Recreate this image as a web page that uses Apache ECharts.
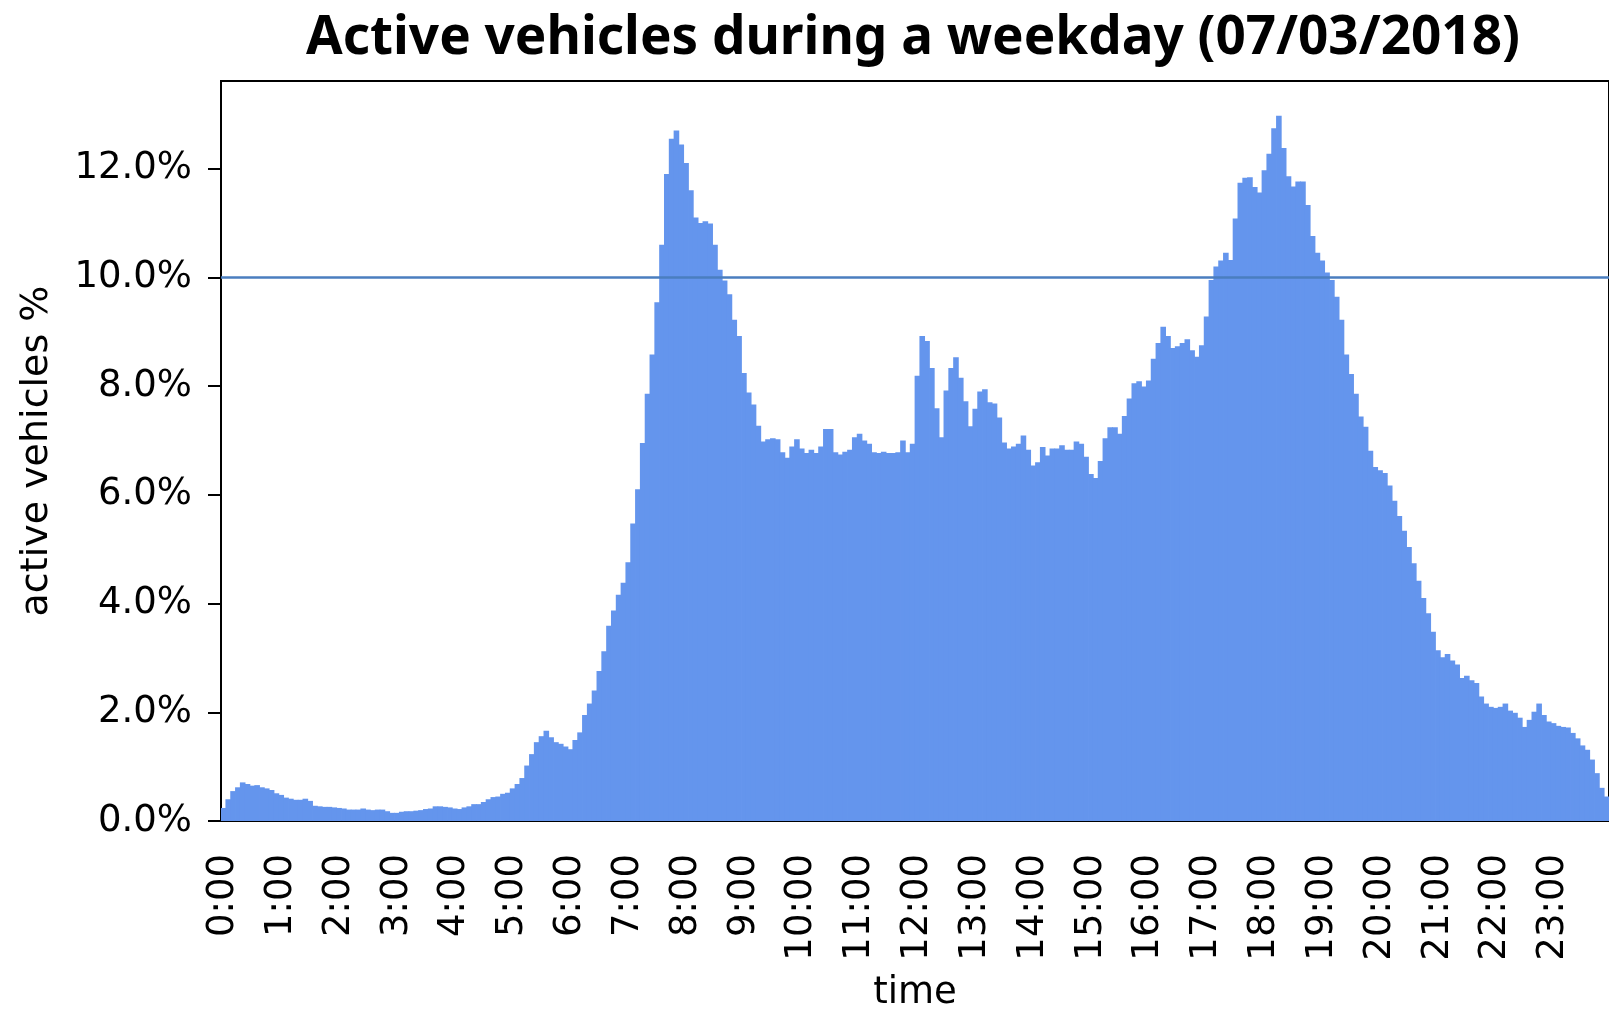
<!DOCTYPE html>
<html>
<head>
<meta charset="utf-8">
<title>Active vehicles during a weekday</title>
<script src="https://cdn.jsdelivr.net/npm/echarts@6/dist/echarts.min.js"></script>
<style>
  html, body { margin: 0; padding: 0; background: #fff; }
  #chart { width: 1609px; height: 1017px; }
</style>
</head>
<body>
<div id="chart"></div>
<script>
  // hour tick labels, one every 12 bars (5 minute slots)
  const hourLabels = ['0:00', '1:00', '2:00', '3:00', '4:00', '5:00', '6:00', '7:00',
    '8:00', '9:00', '10:00', '11:00', '12:00', '13:00', '14:00', '15:00',
    '16:00', '17:00', '18:00', '19:00', '20:00', '21:00', '22:00', '23:00']
  const yTicks = [0, 2, 4, 6, 8, 10, 12]
  const threshold = 10

  // active vehicles %, 5 minute slots, split in 4 hour blocks
  const night = [
    0.24, 0.40, 0.55, 0.62, 0.71, 0.68, 0.65, 0.66, 0.62, 0.60, 0.57, 0.51,
    0.48, 0.43, 0.41, 0.39, 0.39, 0.41, 0.37, 0.28, 0.27, 0.26, 0.26, 0.25,
    0.24, 0.23, 0.21, 0.21, 0.21, 0.23, 0.21, 0.20, 0.21, 0.21, 0.18, 0.15,
    0.15, 0.17, 0.18, 0.18, 0.19, 0.20, 0.22, 0.23, 0.27, 0.27, 0.26, 0.25
  ]
  const earlyMorning = [
    0.23, 0.22, 0.25, 0.27, 0.31, 0.31, 0.35, 0.40, 0.44, 0.45, 0.50, 0.52,
    0.60, 0.68, 0.79, 1.02, 1.23, 1.45, 1.56, 1.66, 1.54, 1.45, 1.42, 1.37,
    1.32, 1.49, 1.63, 1.95, 2.16, 2.40, 2.76, 3.12, 3.59, 3.87, 4.16, 4.38,
    4.76, 5.47, 6.10, 6.95, 7.86, 8.58, 9.54, 10.60, 11.90, 12.55, 12.70, 12.44
  ]
  const morning = [
    12.10, 11.60, 11.10, 11.00, 11.03, 10.99, 10.60, 10.14, 9.94, 9.69, 9.22, 8.92,
    8.24, 7.88, 7.66, 7.27, 6.98, 7.02, 7.04, 7.02, 6.78, 6.68, 6.89, 7.02,
    6.85, 6.77, 6.83, 6.77, 6.89, 7.21, 7.21, 6.78, 6.74, 6.79, 6.83, 7.06,
    7.12, 7.00, 6.94, 6.78, 6.77, 6.79, 6.77, 6.77, 6.78, 7.00, 6.78, 6.94
  ]
  const afternoon = [
    8.19, 8.92, 8.83, 8.33, 7.59, 7.06, 7.92, 8.33, 8.53, 8.15, 7.72, 7.26,
    7.58, 7.90, 7.94, 7.70, 7.68, 7.42, 6.96, 6.85, 6.89, 6.94, 7.09, 6.83,
    6.54, 6.60, 6.88, 6.72, 6.85, 6.85, 6.91, 6.83, 6.83, 6.98, 6.94, 6.70,
    6.38, 6.31, 6.62, 7.04, 7.24, 7.24, 7.12, 7.45, 7.77, 8.05, 8.09, 7.99
  ]
  const evening = [
    8.10, 8.50, 8.79, 9.09, 8.92, 8.70, 8.73, 8.79, 8.86, 8.66, 8.54, 8.75,
    9.28, 9.95, 10.20, 10.31, 10.45, 10.32, 11.08, 11.74, 11.83, 11.84, 11.66, 11.56,
    11.97, 12.27, 12.74, 12.97, 12.38, 11.86, 11.67, 11.76, 11.76, 11.33, 10.76, 10.45,
    10.31, 10.09, 9.95, 9.64, 9.22, 8.58, 8.22, 7.86, 7.44, 7.25, 6.81, 6.51
  ]
  const lateEvening = [
    6.45, 6.40, 6.17, 5.89, 5.61, 5.34, 5.04, 4.74, 4.42, 4.10, 3.82, 3.48,
    3.14, 3.01, 3.07, 2.95, 2.88, 2.63, 2.67, 2.59, 2.54, 2.29, 2.16, 2.10,
    2.08, 2.10, 2.16, 2.03, 1.99, 1.90, 1.73, 1.86, 2.01, 2.16, 1.95, 1.83,
    1.80, 1.75, 1.73, 1.72, 1.62, 1.52, 1.39, 1.31, 1.13, 0.88, 0.61, 0.45
  ]

  const values = night.concat(earlyMorning, morning, afternoon, evening, lateEvening)
  const slots = []
  hourLabels.forEach(h => {
    const hh = h.split(':')[0]
    for (let m = 0; m < 60; m += 5) slots.push(hh + ':' + String(m).padStart(2, '0'))
  })

  const font = 'DejaVu Sans'
  const chart = echarts.init(document.getElementById('chart'))
  const option = {
    animation: false,
    backgroundColor: '#fff',
    title: {
      text: 'Active vehicles during a weekday (07/03/2018)',
      left: 301,
      top: 7,
      textStyle: {
        fontFamily: 'Noto Sans',
        fontWeight: 'bold',
        fontSize: 53,
        color: '#000'
      }
    },
    grid: {
      left: 221,
      top: 81,
      width: 1394.5,
      height: 744,
      show: true,
      borderColor: '#000',
      borderWidth: 2
    },
    xAxis: {
      type: 'category',
      data: slots,
      boundaryGap: true,
      name: 'time',
      nameLocation: 'middle',
      nameGap: 154,
      nameTextStyle: { fontFamily: font, fontSize: 37, color: '#000' },
      axisLine: { lineStyle: { color: '#000', width: 2 } },
      axisTick: {
        alignWithLabel: true,
        interval: 11,
        length: 13,
        lineStyle: { color: '#000', width: 2 }
      },
      axisLabel: {
        interval: 11,
        rotate: 90,
        margin: 33,
        fontFamily: font,
        fontSize: 37,
        color: '#000'
      },
      splitLine: { show: false }
    },
    yAxis: {
      type: 'value',
      min: 0,
      max: 13.61,
      name: 'active vehicles %',
      nameLocation: 'middle',
      nameRotate: 90,
      nameGap: 165,
      nameTextStyle: { fontFamily: font, fontSize: 38, color: '#000' },
      axisLine: { show: true, lineStyle: { color: '#000', width: 2 } },
      axisTick: {
        show: true,
        length: 13,
        customValues: yTicks,
        lineStyle: { color: '#000', width: 2 }
      },
      axisLabel: {
        customValues: yTicks,
        margin: 29,
        fontFamily: font,
        fontSize: 37,
        color: '#000',
        formatter: v => v.toFixed(1) + '%'
      },
      splitLine: { show: false }
    },
    series: [
      {
        type: 'bar',
        data: values,
        barWidth: 5.6,
        itemStyle: { color: '#6495ED' },
        markLine: {
          silent: true,
          symbol: 'none',
          label: { show: false },
          lineStyle: { color: '#4a7ebf', width: 2.5, type: 'solid' },
          data: [{ yAxis: threshold }]
        }
      }
    ]
  }
  chart.setOption(option)
</script>
</body>
</html>
